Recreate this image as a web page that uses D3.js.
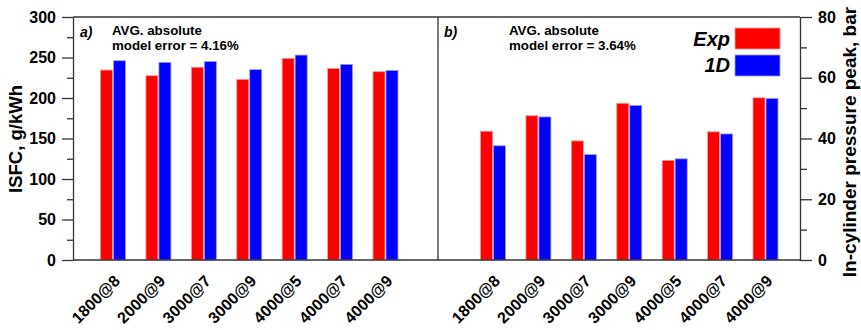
<!DOCTYPE html>
<html>
<head>
<meta charset="utf-8">
<script src="https://cdn.jsdelivr.net/npm/d3@7/dist/d3.min.js"></script>
<style>
  html, body { margin: 0; padding: 0; background: #fff; }
  svg { display: block; font-family: Arial, "Liberation Sans", sans-serif; }
  .tick text { font-weight: bold; font-size: 16px; fill: #000; }
</style>
</head>
<body>
<svg id="chart" width="861" height="330"></svg>
<script>
// Operating points (rpm @ bar BMEP)
const categories = ["1800@8", "2000@9", "3000@7", "3000@9", "4000@5", "4000@7", "4000@9"];

// Panel a) indicated specific fuel consumption, g/kWh
const isfcExp = [234.5, 227.5, 238, 223, 249, 236.5, 232.5];
const isfc1D  = [246, 244, 245, 235, 253, 241.5, 234];

// Panel b) peak in-cylinder pressure, bar
const pmaxExp = [42.4, 47.5, 39.2, 51.6, 32.8, 42.2, 53.4];
const pmax1D  = [37.6, 47.1, 34.7, 50.9, 33.3, 41.5, 53.2];

const leftTicks  = [0, 50, 100, 150, 200, 250, 300];
const rightTicks = [0, 20, 40, 60, 80];

const seriesNames  = ["Exp", "1D"];
const seriesColors = ["#ff0000", "#0000ff"];
const seriesEdges  = ["#ff9a9a", "#9a9aff"];

const svg = d3.select("#chart");

const plotTop = 17, plotBottom = 260;
const xLeft = 73, xMid = 438, xRight = 800;
const axisColor = "#333";

const yA = d3.scaleLinear().domain([0, 300]).range([plotBottom, plotTop]);
const yB = d3.scaleLinear().domain([0, 80]).range([plotBottom, plotTop]);

const xA = d3.scalePoint().domain(categories).range([113, 385.5]);
const xB = d3.scalePoint().domain(categories).range([493, 765.5]);

const barW = 12, gap = 1;

function drawBars(xs, ys, exp, sim) {
  const g = svg.append("g");
  [exp, sim].forEach((vals, si) => {
    g.selectAll(null)
      .data(categories.map((c, i) => ({ c, v: vals[i] })))
      .join("rect")
      .attr("x", d => si === 0 ? xs(d.c) - barW - gap / 2 : xs(d.c) + gap / 2)
      .attr("y", d => ys(d.v))
      .attr("width", barW)
      .attr("height", d => ys(0) - ys(d.v))
      .attr("fill", seriesColors[si])
      .attr("stroke", seriesEdges[si])
      .attr("stroke-width", 0.8);
  });
}

drawBars(xA, yA, isfcExp, isfc1D);
drawBars(xB, yB, pmaxExp, pmax1D);

// Frame: top border, bottom line, panel divider
svg.append("line").attr("x1", xLeft).attr("x2", xRight).attr("y1", plotTop).attr("y2", plotTop)
  .attr("stroke", axisColor).attr("stroke-width", 1.3);
svg.append("line").attr("x1", xLeft).attr("x2", xRight).attr("y1", plotBottom).attr("y2", plotBottom)
  .attr("stroke", axisColor).attr("stroke-width", 1.3);
svg.append("line").attr("x1", xMid).attr("x2", xMid).attr("y1", plotTop).attr("y2", plotBottom)
  .attr("stroke", axisColor).attr("stroke-width", 1.3);

// Left axis with minor ticks
const minorLeft = d3.range(25, 300, 50);
svg.append("g").attr("transform", `translate(${xLeft},0)`)
  .call(d3.axisLeft(yA).tickValues(minorLeft).tickSize(6).tickFormat(""))
  .call(g => g.select(".domain").remove())
  .call(g => g.selectAll("line").attr("stroke", axisColor).attr("stroke-width", 1.3));
svg.append("g").attr("transform", `translate(${xLeft},0)`)
  .call(d3.axisLeft(yA).tickValues(leftTicks).tickSize(11).tickSizeOuter(0).tickPadding(6))
  .call(g => g.select(".domain").attr("stroke", axisColor).attr("stroke-width", 1.3))
  .call(g => g.selectAll("line").attr("stroke", axisColor).attr("stroke-width", 1.3));

// Right axis with minor ticks
const minorRight = d3.range(10, 80, 20);
svg.append("g").attr("transform", `translate(${xRight},0)`)
  .call(d3.axisRight(yB).tickValues(minorRight).tickSize(7).tickFormat(""))
  .call(g => g.select(".domain").remove())
  .call(g => g.selectAll("line").attr("stroke", axisColor).attr("stroke-width", 1.3));
svg.append("g").attr("transform", `translate(${xRight},0)`)
  .call(d3.axisRight(yB).tickValues(rightTicks).tickSize(12).tickSizeOuter(0).tickPadding(6))
  .call(g => g.select(".domain").attr("stroke", axisColor).attr("stroke-width", 1.3))
  .call(g => g.selectAll("line").attr("stroke", axisColor).attr("stroke-width", 1.3));

// Rotated category labels under both panels
function drawCatLabels(xs) {
  svg.append("g").selectAll("text")
    .data(categories)
    .join("text")
    .attr("transform", c => `translate(${xs(c)},${plotBottom + 14}) rotate(-45)`)
    .attr("text-anchor", "end")
    .attr("dy", "0.7em")
    .attr("font-weight", "bold")
    .attr("font-size", 16)
    .text(c => c);
}
drawCatLabels(xA);
drawCatLabels(xB);

// Axis titles
svg.append("text")
  .attr("transform", `translate(22,139) rotate(-90)`)
  .attr("text-anchor", "middle")
  .attr("font-weight", "bold").attr("font-size", 18.5)
  .text("ISFC, g/kWh");
svg.append("text")
  .attr("transform", `translate(856,142) rotate(-90)`)
  .attr("text-anchor", "middle")
  .attr("font-weight", "bold").attr("font-size", 19)
  .text("In-cylinder pressure peak, bar");

// Panel tags and error notes
svg.append("text").attr("x", 80).attr("y", 37)
  .attr("font-weight", "bold").attr("font-style", "italic").attr("font-size", 14).text("a)");
svg.append("text").attr("x", 444).attr("y", 37)
  .attr("font-weight", "bold").attr("font-style", "italic").attr("font-size", 14).text("b)");

function note(x, err) {
  const t = svg.append("text").attr("x", x).attr("y", 35)
    .attr("font-weight", "bold").attr("font-size", 13.3);
  t.append("tspan").attr("x", x).text("AVG. absolute");
  t.append("tspan").attr("x", x).attr("dy", 15).text(`model error = ${err}`);
}
note(112, "4.16%");
note(509, "3.64%");

// Legend
const legend = svg.append("g");
seriesNames.forEach((name, i) => {
  legend.append("text")
    .attr("x", 730).attr("y", 46 + i * 26)
    .attr("text-anchor", "end")
    .attr("font-weight", "bold").attr("font-style", "italic").attr("font-size", 20)
    .text(name);
  legend.append("rect")
    .attr("x", 735).attr("y", 28 + i * 27)
    .attr("width", 45).attr("height", 21)
    .attr("fill", seriesColors[i])
    .attr("stroke", seriesEdges[i]).attr("stroke-width", 0.8);
});
</script>
</body>
</html>
